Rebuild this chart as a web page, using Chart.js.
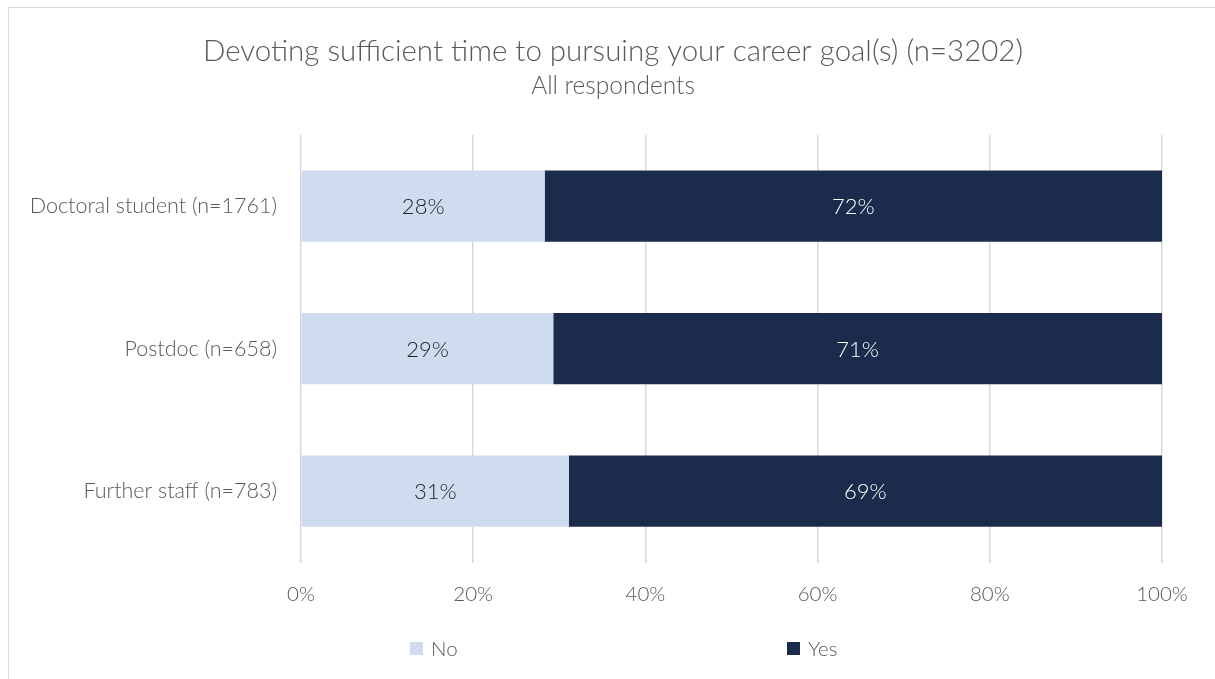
<!DOCTYPE html>
<html>
<head>
<meta charset="utf-8">
<script src="https://cdn.jsdelivr.net/npm/chart.js@4"></script>
<style>
    html, body { margin: 0; padding: 0; background: #fff; overflow: hidden; }
    .frame { position: absolute; left: 8px; top: 7px; width: 1400px; height: 900px; border: 1px solid #d9d9d9; }
    .wrap { position: absolute; left: 0; top: 0; width: 1215px; height: 679px; }
</style>
</head>
<body>
<div class="frame"></div>
<div class="wrap"><canvas id="chart" width="1215" height="679"></canvas></div>
<script>
const categories = ['Doctoral student (n=1761)', 'Postdoc (n=658)', 'Further staff (n=783)'];
const noValues = [28.3, 29.3, 31.1];
const yesValues = [71.7, 70.7, 68.9];
const noLabels = ['28%', '29%', '31%'];
const yesLabels = ['72%', '71%', '69%'];
const xTicks = [0, 20, 40, 60, 80, 100];

const FONT = 'Lato, "Source Sans Pro", sans-serif';
const GREY = '#595959';

// etykiety wartości na słupkach
const barLabels = {
    id: 'barLabels',
    afterDatasetsDraw(chart) {
        const ctx = chart.ctx;
        const texts = [noLabels, yesLabels];
        const colors = ['#262626', '#ffffff'];
        ctx.save();
        ctx.font = '300 22px ' + FONT;
        ctx.textAlign = 'center';
        ctx.textBaseline = 'middle';
        chart.data.datasets.forEach((ds, i) => {
            chart.getDatasetMeta(i).data.forEach((bar, j) => {
                const mid = (bar.x + bar.base) / 2;
                ctx.fillStyle = colors[i];
                ctx.fillText(texts[i][j], mid, bar.y + 1);
            });
        });
        ctx.restore();
    }
};

// legenda rozstawiona jak w Excelu
const wideLegend = {
    id: 'wideLegend',
    afterDraw(chart) {
        const ctx = chart.ctx;
        const xs = [410, 787];
        const y = 649;
        ctx.save();
        ctx.font = '300 20.5px ' + FONT;
        ctx.textBaseline = 'middle';
        chart.data.datasets.forEach((ds, i) => {
            ctx.fillStyle = ds.backgroundColor;
            ctx.fillRect(xs[i], y - 7, 13, 13);
            ctx.fillStyle = GREY;
            ctx.fillText(ds.label, xs[i] + 21, y);
        });
        ctx.restore();
    }
};

new Chart(document.getElementById('chart'), {
    type: 'bar',
    data: {
        labels: categories,
        datasets: [
            { label: 'No', data: noValues, backgroundColor: '#cfdcef' },
            { label: 'Yes', data: yesValues, backgroundColor: '#1a2b4c' }
        ]
    },
    options: {
        indexAxis: 'y',
        responsive: false,
        animation: false,
        events: [],
        layout: { padding: { left: 11, right: 0, top: 0, bottom: 56.5 } },
        categoryPercentage: 1,
        barPercentage: 0.5,
        plugins: {
            legend: { display: false },
            tooltip: { enabled: false },
            title: {
                display: true,
                text: 'Devoting sufficient time to pursuing your career goal(s) (n=3202)',
                color: GREY,
                font: { family: FONT, size: 29.5, weight: '300' },
                padding: { top: 34, bottom: 1 }
            },
            subtitle: {
                display: true,
                text: 'All respondents',
                color: GREY,
                font: { family: FONT, size: 24.5, weight: '300' },
                padding: { top: 1, bottom: 34 }
            }
        },
        scales: {
            x: {
                stacked: true,
                min: 0,
                max: 100,
                afterBuildTicks: scale => { scale.ticks = xTicks.map(v => ({ value: v })); },
                afterFit: scale => { scale.height = 60; },
                border: { display: false },
                grid: { color: '#d9d9d9', lineWidth: 1.5, drawTicks: false },
                ticks: {
                    color: GREY,
                    padding: 20,
                    font: { family: FONT, size: 20.5, weight: '300' },
                    callback: v => v + '%'
                }
            },
            y: {
                stacked: true,
                afterFit: scale => { scale.width = 290; },
                border: { display: false },
                grid: { display: false, drawTicks: false },
                ticks: {
                    color: GREY,
                    padding: 24,
                    font: { family: FONT, size: 21.5, weight: '300' }
                }
            },
            // pusta oś po prawej - tylko rezerwuje miejsce
            yRight: {
                type: 'category',
                position: 'right',
                afterFit: scale => { scale.width = 53; },
                border: { display: false },
                grid: { display: false, drawTicks: false },
                ticks: { display: false }
            }
        }
    },
    plugins: [barLabels, wideLegend]
});
</script>
</body>
</html>
